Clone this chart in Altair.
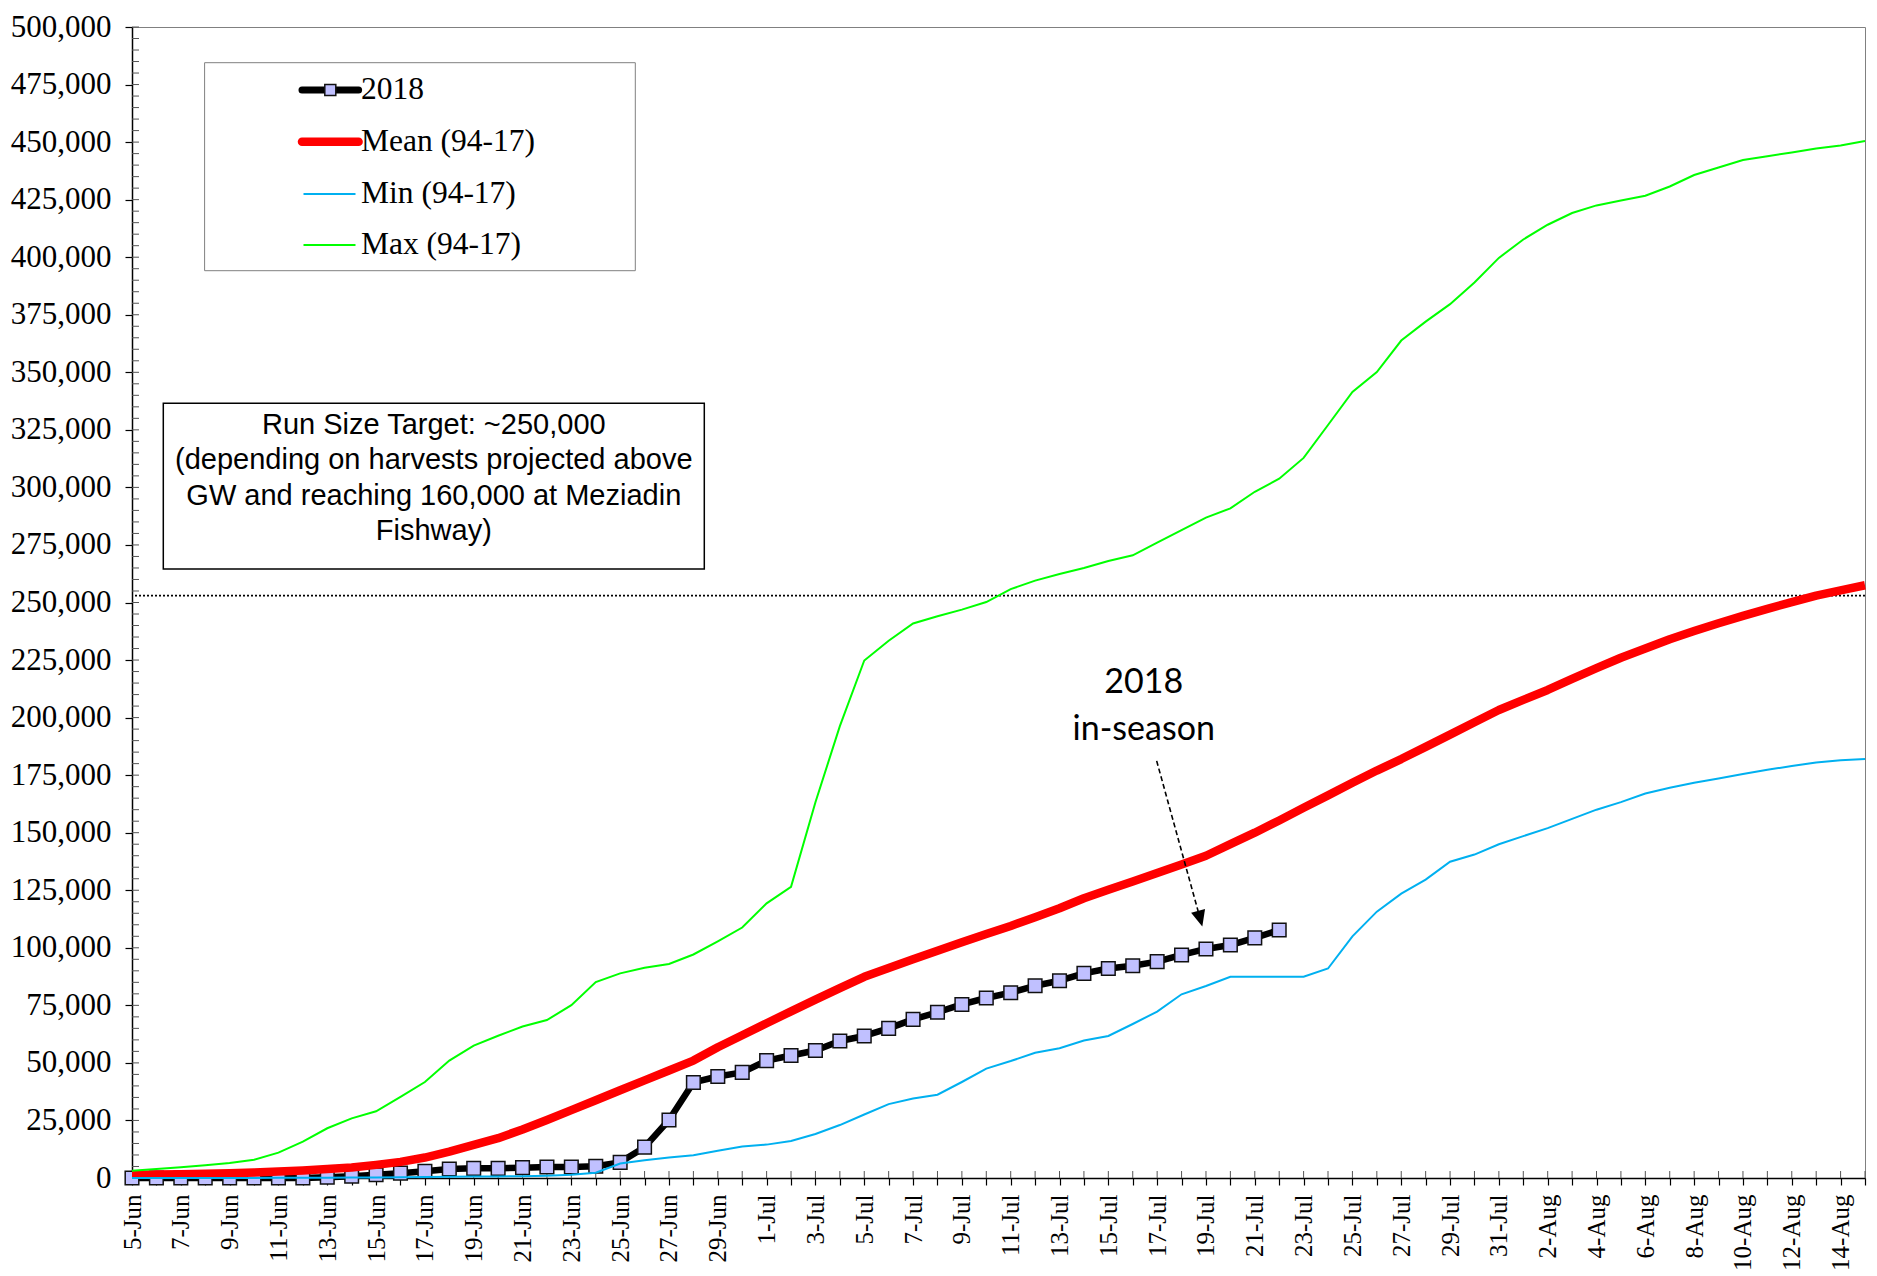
import json
import datetime as dt
import pandas as pd
import altair as alt

# ---------------- data ----------------
start = dt.date(2018, 6, 5)
dates = [f"{(start + dt.timedelta(days=i)).day}-{(start + dt.timedelta(days=i)).strftime('%b')}" for i in range(72)]

series_names = ["2018", "Mean (94-17)", "Min (94-17)", "Max (94-17)"]

y2018 = [0, 0, 0, 0, 0, 0, 0, 0, 300, 800,
         1400, 2100, 2900, 3900, 4200, 4200, 4500, 4800, 4800, 5100,
         6800, 13400, 25200, 41500, 44100, 45900, 51000, 53200, 55400, 59500,
         61700, 65000, 68900, 72000, 75400, 78200, 80500, 83500, 85700, 88900,
         91000, 92200, 94000, 96900, 99500, 101200, 104300, 107700]

mean_vals = [1400, 1500, 1600, 1800, 2100, 2400, 2800, 3300, 3900, 4600,
             5700, 7000, 8900, 11500, 14400, 17300, 21100, 25200, 29500, 33800,
             38100, 42400, 46700, 51000, 56800, 62000, 67200, 72400, 77500, 82500,
             87400, 91200, 95000, 98700, 102400, 106000, 109500, 113300, 117200, 121500,
             125200, 128800, 132500, 136200, 140000, 145000, 150000, 155300, 160800, 166200,
             171700, 177000, 182000, 187300, 192600, 198000, 203300, 207700, 212000, 216800,
             221500, 226000, 230000, 234000, 237600, 241000, 244200, 247200, 250200, 253000,
             255300, 257500]

min_vals = [0, 0, 0, 0, 0, 0, 100, 100, 100, 200,
            200, 300, 400, 500, 600, 700, 800, 1000, 1400, 2300,
            6300, 7700, 8900, 9900, 11800, 13700, 14500, 16100, 19100, 23000,
            27600, 32100, 34500, 36200, 41700, 47500, 50800, 54400, 56400, 59700,
            61700, 66900, 72300, 79800, 83400, 87400, 87400, 87400, 87400, 91000,
            105000, 115700, 123500, 129600, 137400, 140500, 145000, 148500, 152000, 156000,
            160000, 163300, 167000, 169500, 171700, 173500, 175500, 177300, 179000, 180500,
            181500, 182000]

max_vals = [3100, 3900, 4700, 5500, 6500, 7900, 11000, 15800, 21600, 25900,
            29000, 35200, 41700, 51000, 57500, 61800, 65800, 68600, 75100, 85100,
            88900, 91300, 93000, 97100, 102800, 108800, 119300, 126500, 163200, 196300,
            224800, 233400, 240900, 244000, 246900, 250200, 255800, 259500, 262400, 265000,
            268000, 270500, 276000, 281400, 286900, 290900, 298100, 303800, 312800, 327100,
            341500, 350100, 363800, 372000, 379600, 389000, 399700, 407700, 414100, 419200,
            422500, 424600, 426700, 430700, 435700, 439000, 442200, 443900, 445500, 447200,
            448500, 450500]

y_ticks = list(range(0, 500001, 25000))
y_minor = list(range(0, 500001, 5000))

target = 253000
box_lines = ["Run Size Target: ~250,000", "(depending on harvests projected above",
             "GW and reaching 160,000 at Meziadin", "Fishway)"]
anno_lines = ["2018", "in-season"]
anno_x = [41.45, 41.45]
anno_y = [214900, 194800]
arrow_start = (41.98, 181200)
arrow_line_end = (43.72, 114300)
arrow_tip = (43.85, 109300)

# ---------------- layout ----------------
TOP = 19
W, H = 1733, 1170 - TOP
SERIF = "Liberation Serif"

xscale = alt.Scale(domain=[0, 71], nice=False, zero=False)
yscale = alt.Scale(domain=[0, 500000], nice=False)
label_expr = f"datum.value % 2 == 0 ? {json.dumps(dates)}[datum.value] : ''"
xaxis = alt.Axis(values=list(range(72)), labelExpr=label_expr, labelAngle=270,
                 labelAlign="right", labelBaseline="middle", labelFont=SERIF,
                 labelFontSize=25, labelPadding=9, tickSize=7, grid=False,
                 title=None, labelOverlap=False, labelFlush=False)
yaxis = alt.Axis(values=y_ticks, labelExpr="format(datum.value, ',')", labelFont=SERIF,
                 labelFontSize=31, labelPadding=14, tickSize=7, grid=False, title=None,
                 labelOverlap=False, labelFlush=False)


def X(f):
    return alt.X(f"{f}:Q", scale=xscale, axis=xaxis)


def Y(f):
    return alt.Y(f"{f}:Q", scale=yscale, axis=yaxis)


def series_df(vals):
    return pd.DataFrame({"day": list(range(len(vals))), "value": vals})


def py(page_y):
    """page y position (page top = 0) -> plot-area pixel y"""
    return page_y - 8 - TOP


one = pd.DataFrame({"a": [0]})

# inside tick marks
xt = alt.Chart(pd.DataFrame({"day": list(range(72))})).mark_rule(
    color="#555555", strokeWidth=1).encode(x=X("day"), y=alt.value(H), y2=alt.value(H - 7))
yt = alt.Chart(pd.DataFrame({"v": y_minor})).mark_rule(
    color="#555555", strokeWidth=1).encode(y=Y("v"), x=alt.value(0), x2=alt.value(7))

target_rule = alt.Chart(pd.DataFrame({"t": [target]})).mark_rule(
    color="black", strokeDash=[2, 2], strokeWidth=1.6).encode(y=Y("t"))

df18 = series_df(y2018)
l18 = alt.Chart(df18).mark_line(color="black", strokeWidth=6.5, strokeJoin="round").encode(
    x=X("day"), y=Y("value"))
p18 = alt.Chart(df18).mark_point(shape="square", filled=True, fill="#C0C0FF", stroke="#111111",
                                 strokeWidth=1.5, size=185, opacity=1).encode(x=X("day"), y=Y("value"))
lmean = alt.Chart(series_df(mean_vals)).mark_line(color="#FF0000", strokeWidth=8.5, strokeJoin="round").encode(
    x=X("day"), y=Y("value"))
lmin = alt.Chart(series_df(min_vals)).mark_line(color="#00B0F0", strokeWidth=2).encode(
    x=X("day"), y=Y("value"))
lmax = alt.Chart(series_df(max_vals)).mark_line(color="#00FF00", strokeWidth=2).encode(
    x=X("day"), y=Y("value"))

# annotation arrow and text
arrow_df = pd.DataFrame({"x": [arrow_start[0]], "y": [arrow_start[1]],
                         "x2": [arrow_line_end[0]], "y2": [arrow_line_end[1]]})
arrow = alt.Chart(arrow_df).mark_rule(color="black", strokeDash=[5, 3], strokeWidth=1.6).encode(
    x=X("x"), y=Y("y"), x2=alt.X2("x2"), y2=alt.Y2("y2"))
head = alt.Chart(pd.DataFrame({"x": [arrow_tip[0]], "y": [arrow_tip[1]]})).mark_point(
    shape="M0,0L-0.45,-1L0.45,-1Z", filled=True, color="black", size=1024, angle=344.7,
    opacity=1).encode(x=X("x"), y=Y("y"))
anno = alt.Chart(pd.DataFrame({"x": anno_x, "y": anno_y, "t": anno_lines})).mark_text(
    font="Lato", fontSize=34, align="center", baseline="middle", color="black").encode(
    x=X("x"), y=Y("y"), text="t:N")

# text box (page coordinates converted to plot pixels)
tbox = alt.Chart(one).mark_rect(fill="white", stroke="black", strokeWidth=1.5).encode(
    x=alt.value(31.3), x2=alt.value(572.3), y=alt.value(py(403.3)), y2=alt.value(py(569)))
ttext = alt.Chart(one).mark_text(font="Liberation Sans", fontSize=29, align="center",
                                 baseline="middle", lineHeight=35.3, color="black").encode(
    x=alt.value(301.8), y=alt.value(py(425)), text=alt.value(box_lines))

# legend
lbox = alt.Chart(one).mark_rect(fill="white", stroke="#808080", strokeWidth=1).encode(
    x=alt.value(72.6), x2=alt.value(503.3), y=alt.value(py(62.7)), y2=alt.value(py(270.7)))
rows_page_y = [90, 141.7, 194, 245]
leg_colors = ["black", "#FF0000", "#00B0F0", "#00FF00"]
leg_widths = [7, 8.5, 2, 2]
leg_caps = ["round", "round", "butt", "butt"]
leg_layers = [lbox]
for i, name in enumerate(series_names):
    x0, x1 = (170, 226.6) if i < 2 else (171.5, 223.5)
    leg_layers.append(alt.Chart(one).mark_rule(color=leg_colors[i], strokeWidth=leg_widths[i],
                                               strokeCap=leg_caps[i]).encode(
        x=alt.value(x0), x2=alt.value(x1), y=alt.value(py(rows_page_y[i]))))
    leg_layers.append(alt.Chart(one).mark_text(font=SERIF, fontSize=31.5, align="left",
                                               baseline="middle", color="black").encode(
        x=alt.value(229), y=alt.value(py(rows_page_y[i])), text=alt.value(name)))
leg_layers.append(alt.Chart(one).mark_point(shape="square", filled=True, fill="#C0C0FF",
                                            stroke="#111111", strokeWidth=1.5, size=121,
                                            opacity=1).encode(
    x=alt.value(198.3), y=alt.value(py(rows_page_y[0]))))

chart = alt.layer(
    xt, yt, target_rule, l18, p18, lmean, lmin, lmax, arrow, head, anno, tbox, ttext, *leg_layers
).properties(
    width=W, height=H,
    autosize=alt.AutoSizeParams(type="none"),
    padding={"left": 124, "top": TOP, "right": 3, "bottom": 95},
    background="white",
).configure_view(
    stroke="#808080", strokeWidth=1
).configure_axis(
    domainColor="black", tickColor="black", labelColor="black", domainWidth=1.5, tickWidth=1.2
)

chart.save("out.html", embed_options={"renderer": "svg", "actions": False})
